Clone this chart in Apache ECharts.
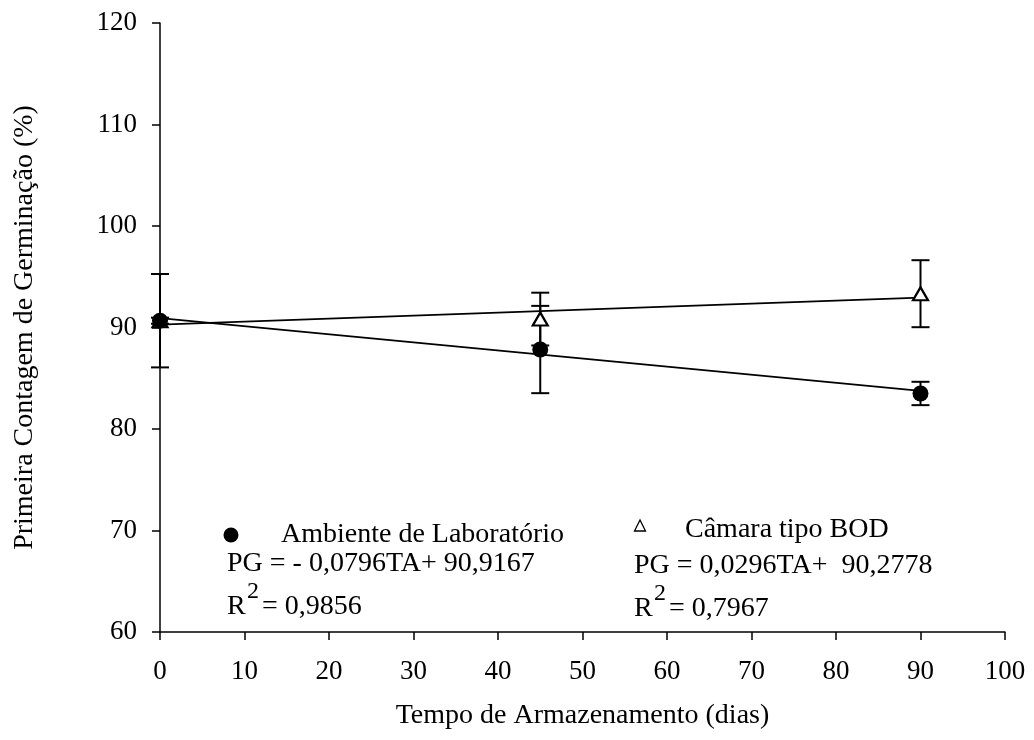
<!DOCTYPE html>
<html>
<head>
<meta charset="utf-8">
<script src="https://cdn.jsdelivr.net/npm/echarts@6/dist/echarts.min.js"></script>
<style>html,body{margin:0;padding:0;background:#fff}#c{width:1034px;height:740px}</style>
</head>
<body>
<div id="c"></div>
<script>
var days = [0, 45, 90];
var labMean = [90.67, 87.83, 83.5];
var labErr = [4.6, 4.3, 1.15];
var bodMean = [90.67, 90.83, 93.33];
var bodErr = [0.3, 2.6, 3.3];
var fitX = [0, 90];
var labFit = [90.92, 83.75];
var bodFit = [90.28, 92.94];
var xTicks = [0, 10, 20, 30, 40, 50, 60, 70, 80, 90, 100];
var yTicks = [60, 70, 80, 90, 100, 110, 120];
var labName = 'Ambiente de Laboratório';
var bodName = 'Câmara tipo BOD';
var labEq = 'PG = - 0,0796TA+ 90,9167';
var bodEq = 'PG = 0,0296TA+  90,2778';
var labR2 = '= 0,9856';
var bodR2 = '= 0,7967';

var FONT = '"Liberation Serif","Times New Roman",serif';
var chart = echarts.init(document.getElementById('c'), null, {renderer: 'canvas'});

function pairs(xs, ys) { return xs.map(function (x, i) { return [x, ys[i]]; }); }
function errData(xs, m, e) { return xs.map(function (x, i) { return [x, m[i] - e[i], m[i] + e[i]]; }); }

function errRender(params, api) {
  var x = api.value(0);
  var lo = api.coord([x, api.value(1)]);
  var hi = api.coord([x, api.value(2)]);
  var hw = 9;
  var st = {stroke: '#000', lineWidth: 2};
  return {
    type: 'group',
    children: [
      {type: 'line', shape: {x1: lo[0], y1: lo[1], x2: hi[0], y2: hi[1]}, style: st},
      {type: 'line', shape: {x1: lo[0] - hw, y1: lo[1], x2: lo[0] + hw, y2: lo[1]}, style: st},
      {type: 'line', shape: {x1: hi[0] - hw, y1: hi[1], x2: hi[0] + hw, y2: hi[1]}, style: st}
    ]
  };
}

function txt(x, y, s, size) {
  return {type: 'text', x: x, y: y, style: {text: s, font: (size || 28) + 'px ' + FONT, fill: '#000', verticalAlign: 'middle', align: 'left'}};
}

var option = {
  animation: false,
  backgroundColor: '#fff',
  grid: {left: 160, right: 29, top: 23, bottom: 108},
  xAxis: {
    type: 'value', min: 0, max: 100, interval: 10,
    name: 'Tempo de Armazenamento (dias)', nameLocation: 'middle', nameGap: 70, nameMoveOverlap: false,
    nameTextStyle: {fontFamily: FONT, fontSize: 28, color: '#000'},
    axisLine: {lineStyle: {color: '#000', width: 1.5}},
    axisTick: {length: 8, lineStyle: {color: '#000', width: 1.5}},
    axisLabel: {fontFamily: FONT, fontSize: 27, color: '#000', margin: 26,
      formatter: function (v) { return xTicks.indexOf(v) >= 0 ? String(v) : ''; }},
    splitLine: {show: false}
  },
  yAxis: {
    type: 'value', min: 60, max: 120, interval: 10,
    name: 'Primeira Contagem de Germinação (%)', nameLocation: 'middle', nameGap: 121,
    nameTextStyle: {fontFamily: FONT, fontSize: 28, color: '#000'},
    axisLine: {show: true, lineStyle: {color: '#000', width: 1.5}},
    axisTick: {show: true, length: 8, lineStyle: {color: '#000', width: 1.5}},
    axisLabel: {fontFamily: FONT, fontSize: 27, color: '#000', margin: 23,
      formatter: function (v) { return yTicks.indexOf(v) >= 0 ? String(v) : ''; }},
    splitLine: {show: false}
  },
  series: [
    {type: 'line', data: pairs(fitX, labFit), symbol: 'none', lineStyle: {color: '#000', width: 1.8}, z: 2},
    {type: 'line', data: pairs(fitX, bodFit), symbol: 'none', lineStyle: {color: '#000', width: 1.8}, z: 2},
    {type: 'custom', data: errData(days, labMean, labErr), renderItem: errRender, z: 3},
    {type: 'custom', data: errData(days, bodMean, bodErr), renderItem: errRender, z: 3},
    {type: 'scatter', name: bodName, data: pairs(days, bodMean), symbol: 'triangle', symbolSize: [15, 13],
      itemStyle: {color: '#fff', borderColor: '#000', borderWidth: 2.2, opacity: 1}, z: 5},
    {type: 'scatter', name: labName, data: pairs(days, labMean), symbol: 'circle', symbolSize: 16,
      itemStyle: {color: '#000', opacity: 1}, z: 6}
  ],
  graphic: [
    {type: 'circle', shape: {cx: 231, cy: 535, r: 7.5}, style: {fill: '#000'}},
    txt(281, 535, labName),
    txt(227, 564, labEq),
    txt(227, 607, 'R'),
    txt(247, 592, '2', 24),
    txt(262, 607, labR2),
    {type: 'polygon', shape: {points: [[640, 520], [634.5, 531], [645.5, 531]]}, style: {fill: 'none', stroke: '#000', lineWidth: 1.3}},
    txt(685, 530, bodName),
    txt(634, 566, bodEq),
    txt(634, 609, 'R'),
    txt(654, 594, '2', 24),
    txt(669, 609, bodR2)
  ]
};
chart.setOption(option);
</script>
</body>
</html>
